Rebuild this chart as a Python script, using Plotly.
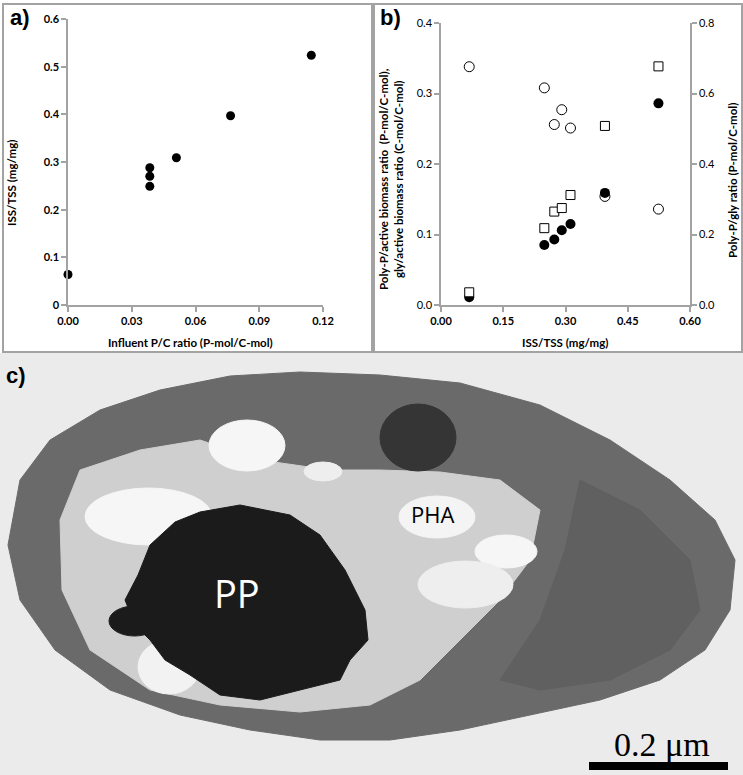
"""Two scatter panels (a, b) plus a sketched micrograph panel (c)."""

import plotly.graph_objects as go

# --- data ---------------------------------------------------------------
# panel a: influent P/C ratio vs ISS/TSS
a_pc_ratio = [0.000, 0.0385, 0.0385, 0.0385, 0.051, 0.0765, 0.1145]
a_iss_tss = [0.064, 0.288, 0.270, 0.249, 0.309, 0.397, 0.524]

# panel b: ISS/TSS vs biomass ratios
b_iss_tss = [0.068, 0.249, 0.273, 0.291, 0.312, 0.395, 0.524]
b_gly_active = [0.338, 0.308, 0.256, 0.277, 0.251, 0.154, 0.136]
b_pp_active = [0.011, 0.085, 0.093, 0.106, 0.115, 0.159, 0.286]
b_pp_gly = [0.036, 0.218, 0.265, 0.275, 0.312, 0.508, 0.677]

a_xticks = [0.0, 0.03, 0.06, 0.09, 0.12]
a_yticks = [0, 0.1, 0.2, 0.3, 0.4, 0.5, 0.6]
b_xticks = [0.0, 0.15, 0.30, 0.45, 0.60]
b_yticks = [0.0, 0.1, 0.2, 0.3, 0.4]
b_y2ticks = [0.0, 0.2, 0.4, 0.6, 0.8]

W, H = 743, 775
FONT = "Lato"
AXIS_GREY = "#a3a3a3"


def px_x(v):
    return v / W


def px_y(v):
    return 1 - v / H


def axis_style(**kw):
    base = dict(
        showline=True, linecolor=AXIS_GREY, linewidth=1.5,
        ticks="outside", ticklen=5, tickcolor=AXIS_GREY, tickwidth=1.5,
        showgrid=False, zeroline=False, automargin=False,
        tickfont=dict(family=FONT, size=11, color="black", weight="bold"),
    )
    base.update(kw)
    return base


fig = go.Figure()

# --- panel a -------------------------------------------------------------
fig.add_scatter(
    x=a_pc_ratio, y=a_iss_tss, mode="markers", xaxis="x", yaxis="y",
    marker=dict(symbol="circle", size=9, color="black"), cliponaxis=False,
)

# --- panel b -------------------------------------------------------------
fig.add_scatter(
    x=b_iss_tss, y=b_gly_active, mode="markers", xaxis="x2", yaxis="y2",
    marker=dict(symbol="circle", size=10, color="white",
                line=dict(color="black", width=1)), cliponaxis=False,
)
fig.add_scatter(
    x=b_iss_tss, y=b_pp_gly, mode="markers", xaxis="x2", yaxis="y3",
    marker=dict(symbol="square", size=9, color="white",
                line=dict(color="black", width=1)), cliponaxis=False,
)
fig.add_scatter(
    x=b_iss_tss, y=b_pp_active, mode="markers", xaxis="x2", yaxis="y2",
    marker=dict(symbol="circle", size=10, color="black"), cliponaxis=False,
)

fig.update_layout(
    width=W, height=H, margin=dict(l=0, r=0, t=0, b=0, autoexpand=False),
    paper_bgcolor="white", plot_bgcolor="rgba(0,0,0,0)", showlegend=False,
    xaxis=axis_style(domain=[px_x(68), px_x(323)], range=[0, 0.12],
                     tickvals=a_xticks, ticktext=[f"{v:.2f}" for v in a_xticks],
                     anchor="y"),
    yaxis=axis_style(domain=[px_y(305), px_y(19)], range=[0, 0.6],
                     tickvals=a_yticks, ticktext=["0"] + [f"{v:.1f}" for v in a_yticks[1:]],
                     anchor="x"),
    xaxis2=axis_style(domain=[px_x(441), px_x(690)], range=[0, 0.6],
                      tickvals=b_xticks, ticktext=[f"{v:.2f}" for v in b_xticks],
                      anchor="y2"),
    yaxis2=axis_style(domain=[px_y(305), px_y(23)], range=[0, 0.4],
                      tickvals=b_yticks, ticktext=[f"{v:.1f}" for v in b_yticks],
                      anchor="x2",
                      tickfont=dict(family=FONT, size=11, color="black")),
    yaxis3=axis_style(domain=[px_y(305), px_y(23)], range=[0, 0.8],
                      tickvals=b_y2ticks, ticktext=[f"{v:.1f}" for v in b_y2ticks],
                      overlaying="y2", side="right", anchor="x2",
                      tickfont=dict(family=FONT, size=11, color="black")),
    # panel c canvas in pixel units
    xaxis3=dict(domain=[0, 1], range=[0, W], visible=False, anchor="y4",
                automargin=False),
    yaxis4=dict(domain=[0, px_y(353)], range=[H, 353], visible=False, anchor="x3",
                automargin=False),
)

# --- frames and micrograph sketch ---------------------------------------
shapes = [
    dict(type="rect", xref="paper", yref="paper", x0=px_x(3), x1=px_x(372),
         y0=px_y(352), y1=px_y(4), line=dict(color=AXIS_GREY, width=2)),
    dict(type="rect", xref="paper", yref="paper", x0=px_x(374), x1=px_x(742),
         y0=px_y(352), y1=px_y(4), line=dict(color=AXIS_GREY, width=2)),
]


def poly(points, fill, line=None):
    path = "M " + " L ".join(f"{x},{y}" for x, y in points) + " Z"
    return dict(type="path", xref="x3", yref="y4", path=path, fillcolor=fill,
                line=dict(color=line or fill, width=1), layer="above")


def oval(x0, y0, x1, y1, fill):
    return dict(type="circle", xref="x3", yref="y4", x0=x0, y0=y0, x1=x1, y1=y1,
                fillcolor=fill, line=dict(color=fill, width=1), layer="above")


shapes.append(dict(type="rect", xref="x3", yref="y4", x0=0, x1=W, y0=353, y1=H,
                   fillcolor="#ebebeb", line=dict(width=0), layer="above"))
cell = [(8, 545), (20, 480), (50, 440), (100, 410), (160, 390), (230, 376),
        (300, 372), (380, 375), (460, 383), (540, 405), (610, 440), (670, 480),
        (715, 520), (735, 560), (730, 610), (705, 650), (660, 680), (600, 700),
        (530, 715), (460, 730), (390, 740), (320, 740), (250, 730), (180, 715),
        (110, 690), (55, 650), (20, 600)]
shapes.append(poly(cell, "#6a6a6a"))
# slightly darker lower-right part of the cell
band = [(580, 480), (640, 510), (690, 560), (700, 610), (670, 650), (610, 680),
        (540, 690), (500, 680), (540, 620), (565, 550)]
shapes.append(poly(band, "#606060"))
inner = [(60, 520), (80, 470), (140, 450), (200, 440), (260, 460), (330, 470),
         (380, 470), (440, 472), (500, 480), (540, 510), (530, 560), (500, 600),
         (460, 640), (420, 680), (370, 705), (300, 712), (220, 705), (150, 690),
         (90, 650), (62, 590)]
shapes.append(poly(inner, "#cfcfcf"))
shapes += [
    oval(85, 488, 212, 545, "#f6f6f6"),
    oval(138, 640, 200, 694, "#f2f2f2"),
    oval(209, 420, 285, 471, "#f6f6f6"),
    oval(304, 462, 342, 481, "#eeeeee"),
    oval(399, 496, 475, 538, "#f4f4f4"),
    oval(475, 535, 537, 568, "#f6f6f6"),
    oval(418, 561, 513, 608, "#eeeeee"),
    oval(380, 404, 456, 471, "#353535"),
]
pp_blob = [(200, 512), (240, 505), (290, 515), (320, 535), (345, 570), (365, 610),
           (368, 640), (350, 660), (340, 680), (300, 690), (260, 700), (220, 695),
           (190, 675), (165, 660), (150, 640), (135, 625), (125, 600), (138, 575),
           (150, 545), (175, 522)]
shapes.append(poly(pp_blob, "#1b1b1b"))
shapes.append(oval(109, 606, 160, 636, "#1b1b1b"))
# scale bar
shapes.append(dict(type="rect", xref="x3", yref="y4", x0=589, x1=728, y0=762, y1=770,
                   fillcolor="black", line=dict(width=0), layer="above"))
fig.update_layout(shapes=shapes)

# --- text ---------------------------------------------------------------
label_font = dict(family="Liberation Sans", size=22, color="black", weight="bold")
title_font = dict(family=FONT, size=11.5, color="black", weight="bold")
notes = [
    dict(x=px_x(20), y=px_y(18), text="a)", font=label_font),
    dict(x=px_x(390), y=px_y(18), text="b)", font=label_font),
    dict(x=px_x(16), y=px_y(375), text="c)", font=label_font),
    dict(x=px_x(12), y=px_y(183), text="ISS/TSS (mg/mg)", textangle=-90, font=title_font),
    dict(x=px_x(190), y=px_y(342), text="Influent P/C ratio (P-mol/C-mol)", font=title_font),
    dict(x=px_x(391), y=px_y(179),
         text="Poly-P/active biomass ratio  (P-mol/C-mol),<br>gly/active biomass ratio (C-mol/C-mol)",
         textangle=-90, font=title_font),
    dict(x=px_x(733), y=px_y(181), text="Poly-P/gly ratio (P-mol/C-mol)",
         textangle=-90, font=title_font),
    dict(x=px_x(565), y=px_y(342), text="ISS/TSS (mg/mg)", font=title_font),
    dict(x=px_x(237), y=px_y(593), text="PP",
         font=dict(family="Open Sans", size=38, color="white")),
    dict(x=px_x(432), y=px_y(514), text="PHA",
         font=dict(family="Open Sans", size=22, color="black")),
    dict(x=px_x(662), y=px_y(744), text="0.2 μm",
         font=dict(family="Liberation Serif", size=34, color="black")),
]
for n in notes:
    n.update(xref="paper", yref="paper", showarrow=False,
             xanchor="center", yanchor="middle")
fig.update_layout(annotations=notes)

# the page body has a default 8px margin; drop it so the figure fills the window
fig.write_html("out.html", config={"displayModeBar": False},
               post_script="document.body.style.margin = '0';")
